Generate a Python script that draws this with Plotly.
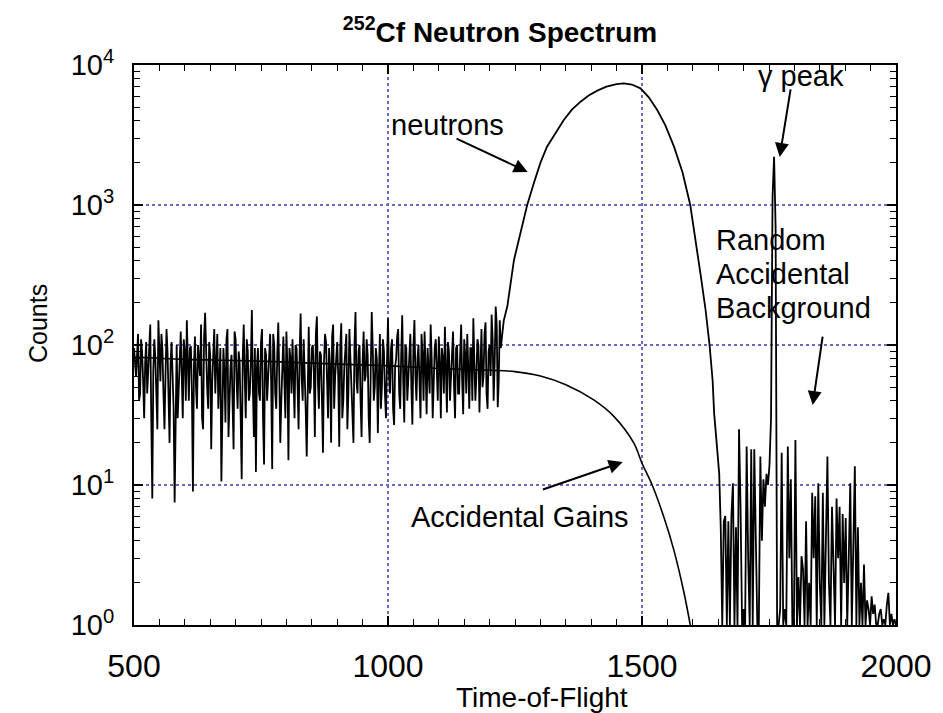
import plotly.graph_objects as go

# ---- data ----
# low-TOF noisy region, channels 500..1224 every 4
noise_left_start, noise_left_step = 500, 4
noise_left = [
    95, 60, 120, 45, 88, 30, 105, 70, 140, 8,
    110, 40, 150, 55, 92, 25, 130, 35, 75, 60,
    7.5, 100, 48, 125, 30, 90, 150, 40, 98, 9,
    115, 35, 80, 140, 25, 170, 50, 105, 18, 90,
    45, 120, 60, 10.6, 95, 28, 130, 40, 85, 18,
    110, 35, 75, 11, 140, 30, 90, 45, 178, 22,
    12.4, 95, 40, 130, 14, 85, 60, 120, 13, 100,
    35, 145, 20, 90, 55, 125, 15, 80, 110, 30,
    95, 25, 168, 40, 70, 16, 135, 50, 100, 22,
    160, 35, 85, 17, 120, 45, 95, 20, 140, 60,
    105, 18.8, 143, 40, 90, 25, 130, 55, 20, 172,
    45, 100, 22, 125, 60, 85, 20, 172, 40, 95,
    23.5, 120, 50, 90, 30, 155, 45, 110, 26.8, 80,
    130, 35, 163, 28, 95, 60, 120, 27, 151, 40,
    100, 30, 85, 125, 32, 70, 140, 30, 95, 50,
    115, 30, 80, 135, 33, 90, 55, 125, 30, 100,
    45, 140, 32, 85, 120, 35, 95, 155, 40, 110,
    33, 130, 60, 145, 35, 100, 165, 40, 188, 36,
    150, 120,
]
# in-between channels 502..1226 every 4
noise_left_mid = [
    70, 85, 40, 110, 55, 75, 45, 90, 30, 65,
    80, 25, 70, 120, 45, 60, 90, 20, 105, 35,
    55, 30, 85, 60, 110, 40, 75, 95, 45, 70,
    50, 100, 60, 30, 115, 75, 35, 85, 55, 130,
    75, 35, 95, 50, 65, 110, 22, 70, 45, 125,
    55, 90, 30, 80, 60, 110, 40, 75, 50, 95,
    70, 45, 105, 30, 95, 40, 80, 55, 120, 45,
    85, 60, 40, 115, 30, 70, 95, 45, 60, 100,
    50, 85, 60, 110, 35, 80, 45, 95, 65, 120,
    55, 90, 40, 75, 105, 30, 70, 115, 35, 85,
    60, 95, 30, 70, 120, 45, 80, 35, 100, 55,
    90, 40, 75, 55, 110, 30, 65, 95, 50, 80,
    60, 35, 110, 45, 75, 60, 95, 35, 70, 115,
    45, 85, 55, 100, 40, 75, 50, 95, 60, 80,
    55, 120, 40, 70, 95, 45, 80, 55, 110, 40,
    75, 95, 45, 60, 105, 40, 80, 50, 95, 45,
    85, 55, 110, 45, 70, 95, 40, 75, 60, 100,
    70, 50, 120, 45, 90, 60, 110, 75, 140, 55,
    95, 130,
]

# neutron peak (TOF, counts)
peak_tof = [1228, 1235, 1248, 1261, 1274, 1287, 1300, 1313, 1330, 1346, 1362,
            1379, 1395, 1412, 1430, 1450, 1464, 1480, 1497, 1513, 1530, 1546,
            1563, 1580, 1595, 1606, 1616, 1625, 1633, 1639, 1642, 1646, 1649]
peak_counts = [150, 190, 405, 640, 1000, 1430, 2000, 2610, 3300, 4050, 4800,
               5470, 6050, 6560, 7000, 7300, 7400, 7250, 6810, 5900, 4770, 3700,
               2610, 1700, 1000, 560, 307, 180, 100, 56, 32.5, 22, 16.8]

# high-TOF background + gamma peak, channels 1652..2000 every 3
noise_right_start, noise_right_step = 1652, 3
noise_right = [
    12, 5, 1, 5.5, 6, 1, 5.5, 1, 6, 10.3,
    1, 5, 1, 25, 7, 1, 1.3, 1, 18.8, 3,
    1, 18, 1, 18, 4, 1, 1, 16, 4, 11,
    7, 12, 10, 14, 30, 1150, 2210, 700, 1, 1,
    1.3, 17, 1, 1.3, 1, 18.8, 3, 11, 1, 1,
    21, 1, 2.2, 1, 3.1, 2.5, 1, 5.5, 1, 2,
    1, 8.8, 3, 8.3, 1, 10.3, 2, 1, 8.8, 1,
    4, 16, 2, 1, 7, 2, 1, 8, 3, 7,
    1, 6.2, 2, 5.8, 1, 3, 10.3, 1, 4, 13.6,
    1, 5, 1, 2, 1, 2.7, 1, 1.5, 1.3, 1,
    1.6, 1.2, 1.4, 1, 1, 1.2, 1.3, 1, 1.1, 1,
    1.4, 1.7, 1, 1.2, 1, 1.1, 1,
]

# smooth accidental-gains curve
acc_tof = [500, 600, 700, 800, 900, 1000, 1100, 1200, 1250, 1300, 1350,
           1405, 1445, 1484, 1500, 1520, 1543, 1563, 1583, 1595]
acc_counts = [82, 79, 77.5, 75.5, 73, 71, 68, 66, 64.5, 60, 52,
              40.5, 30.8, 19.9, 14.3, 10, 5.9, 3.4, 1.68, 1.0]

x_ticks = [500, 1000, 1500, 2000]
y_ticks = [1, 10, 100, 1000, 10000]
y_ticktext = ["10<sup>0</sup>", "10<sup>1</sup>", "10<sup>2</sup>", "10<sup>3</sup>", "10<sup>4</sup>"]

# ---- build series ----
left_tof, left_counts = [], []
for i, (a, b) in enumerate(zip(noise_left, noise_left_mid)):
    left_tof += [noise_left_start + i * noise_left_step,
                 noise_left_start + i * noise_left_step + noise_left_step // 2]
    left_counts += [a, b]
right_tof = [noise_right_start + i * noise_right_step for i in range(len(noise_right))]
spec_tof = left_tof + peak_tof + right_tof
spec_counts = left_counts + peak_counts + noise_right

minor_y = [m * 10 ** e for e in range(4) for m in range(2, 10)]

SANS = "Liberation Sans, Arial, Helvetica"
GRID = "rgb(105,105,195)"

fig = go.Figure()
fig.add_trace(go.Scatter(x=spec_tof, y=spec_counts, mode="lines",
                         line=dict(color="black", width=1.8), showlegend=False,
                         hoverinfo="skip"))
fig.add_trace(go.Scatter(x=acc_tof, y=acc_counts, mode="lines",
                         line=dict(color="black", width=1.6, shape="spline"),
                         showlegend=False, hoverinfo="skip"))

fig.update_layout(
    width=943, height=713,
    margin=dict(l=134, r=47, t=65, b=88),
    paper_bgcolor="white", plot_bgcolor="white",
    title=dict(text="<sup>252</sup>Cf Neutron Spectrum",
               font=dict(family=SANS, size=28, color="black", weight="bold"),
               x=500 / 943, xanchor="center", y=0.955, yanchor="middle"),
    xaxis=dict(
        range=[500, 2000], tickmode="array", tickvals=x_ticks,
        ticks="inside", ticklen=9, tickwidth=1.5, tickcolor="black",
        minor=dict(ticks="inside", ticklen=6, tickwidth=1.2, tickcolor="black",
                   dtick=50, tick0=500, showgrid=False),
        showline=True, linecolor="black", linewidth=2, mirror="allticks",
        showgrid=True, gridcolor=GRID, griddash="dot", gridwidth=2,
        zeroline=False,
        tickfont=dict(family=SANS, size=32, color="black"),
        ticklabelstandoff=12,
    ),
    yaxis=dict(
        type="log", range=[0, 4], tickmode="array", tickvals=y_ticks,
        ticktext=y_ticktext,
        ticks="inside", ticklen=9, tickwidth=1.5, tickcolor="black",
        minor=dict(ticks="inside", ticklen=6, tickwidth=1.2, tickcolor="black",
                   tickvals=minor_y, showgrid=False),
        showline=True, linecolor="black", linewidth=2, mirror="allticks",
        showgrid=True, gridcolor=GRID, griddash="dot", gridwidth=2,
        zeroline=False,
        tickfont=dict(family=SANS, size=29, color="black"),
        ticklabelstandoff=12,
    ),
)

# axis titles placed as annotations to match the reference positions
fig.add_annotation(text="Counts", xref="paper", yref="paper",
                   x=(38 - 134) / 762, y=(625 - 324) / 560, textangle=-90,
                   showarrow=False, font=dict(family=SANS, size=25, color="black"),
                   xanchor="center", yanchor="middle")
fig.add_annotation(text="Time-of-Flight", xref="paper", yref="paper",
                   x=(542 - 134) / 762, y=(625 - 697) / 560,
                   showarrow=False, font=dict(family=SANS, size=28, color="black"),
                   xanchor="center", yanchor="middle")

ann_font = dict(family=SANS, size=29, color="black")
arrow = dict(showarrow=True, arrowhead=2, arrowsize=1.4, arrowwidth=2,
             arrowcolor="black", axref="x", ayref="y")
fig.add_annotation(x=1117, y=3.571, text="neutrons", showarrow=False, font=ann_font)
fig.add_annotation(x=1275, y=3.236, ax=1132, ay=3.479, text="", **arrow)
fig.add_annotation(x=1813, y=3.92, text="γ peak", showarrow=False, font=ann_font)
fig.add_annotation(x=1771, y=3.343, ax=1793, ay=3.836, text="", **arrow)
for line_text, ly in [("Random", 2.75), ("Accidental", 2.507), ("Background", 2.264)]:
    fig.add_annotation(x=1641, y=ly, text=line_text, showarrow=False, font=ann_font,
                       xanchor="left")
fig.add_annotation(x=1836, y=1.571, ax=1856, ay=2.07, text="", **arrow)
fig.add_annotation(x=1259, y=0.771, text="Accidental Gains", showarrow=False, font=ann_font)
fig.add_annotation(x=1462, y=1.164, ax=1302, ay=0.964, text="", **arrow)

fig.write_html("out.html")
